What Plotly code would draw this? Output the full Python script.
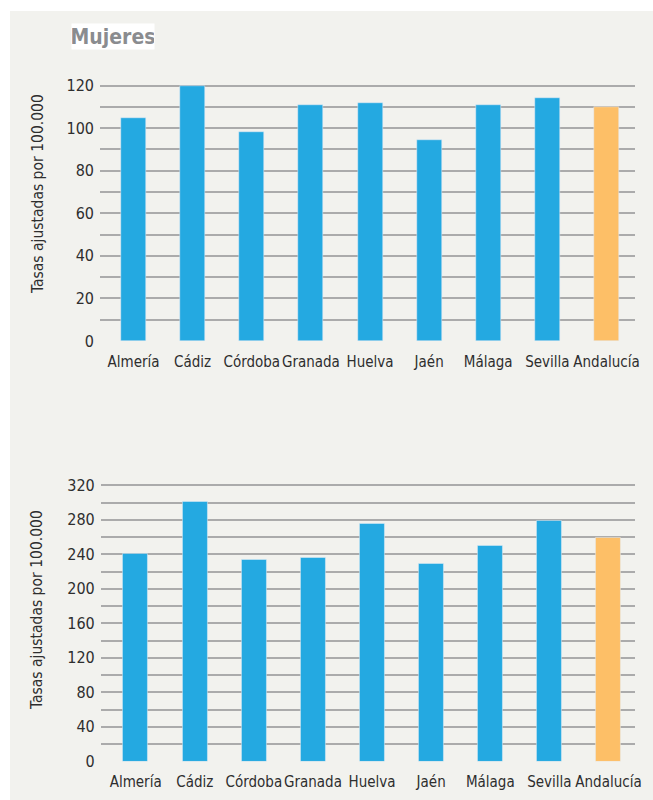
import plotly.graph_objects as go

categories = ["Almería", "Cádiz", "Córdoba", "Granada", "Huelva", "Jaén", "Málaga", "Sevilla", "Andalucía"]
mujeres = [105, 120, 98.4, 111, 112, 94.6, 111, 114.4, 110]
segunda = [241, 301, 233.4, 235.7, 275.5, 229.5, 250.5, 279.5, 259.5]
bar_colors = ["#24a9e1"] * 8 + ["#fdbf67"]

y_title = "Tasas ajustadas por 100.000"
panel_title = "Mujeres"

W, H = 653, 800
FONT = "DejaVu Sans Condensed"
TXT = "#2e2e2e"
GRID = "#ababab"
BG = "#f2f2ee"

def px(x):
    return x / W

def py(y):
    return 1 - y / H

def f(size, color=TXT, **kw):
    return dict(family=FONT, size=size, color=color, **kw)

fig = go.Figure()
fig.add_trace(go.Bar(x=categories, y=mujeres, marker_color=bar_colors, width=0.423,
                     xaxis="x", yaxis="y", showlegend=False))
fig.add_trace(go.Bar(x=categories, y=segunda, marker_color=bar_colors, width=0.423,
                     xaxis="x2", yaxis="y2", showlegend=False))

common_x = dict(showgrid=False, zeroline=False, showline=False, ticks="", tickangle=0,
                automargin=False, tickfont=f(15), ticklabelstandoff=10, fixedrange=True)
common_y = dict(showgrid=True, gridcolor=GRID, gridwidth=1.5, zeroline=False, showline=False,
                automargin=False, ticks="", tickfont=f(16),
                ticklabelstandoff=5, fixedrange=True)

fig.update_layout(
    width=W, height=H,
    autosize=False,
    margin=dict(l=0, r=0, t=0, b=0, pad=0),
    paper_bgcolor="white",
    plot_bgcolor="rgba(0,0,0,0)",
    bargap=0,
    xaxis=dict(common_x, domain=[px(100), px(635)], range=[-0.567, 8.482], anchor="y"),
    yaxis=dict(common_y, domain=[py(341), py(75)], range=[0, 125], dtick=20,
               minor=dict(dtick=10, showgrid=True, gridcolor=GRID, gridwidth=1.5), anchor="x"),
    xaxis2=dict(common_x, domain=[px(100.7), px(635)], range=[-0.592, 8.449], anchor="y2"),
    yaxis2=dict(common_y, domain=[py(761.3), py(476.7)], range=[0, 330], dtick=40,
                minor=dict(dtick=20, showgrid=True, gridcolor=GRID, gridwidth=1.5), anchor="x2"),
    shapes=[dict(type="rect", xref="paper", yref="paper", x0=px(10), x1=1, y0=0, y1=py(11),
                 fillcolor=BG, line=dict(width=0), layer="below")],
    annotations=[
        dict(text=panel_title, xref="paper", yref="paper", x=px(113), y=py(36.5),
             xanchor="center", yanchor="middle", showarrow=False, bgcolor="white",
             borderpad=0, width=82, height=25,
             font=f(21, "#8a8c8f", weight="bold")),
        dict(text=y_title, xref="paper", yref="paper", x=px(38), y=py(194),
             xanchor="center", yanchor="middle", textangle=-90, showarrow=False,
             font=f(15.5)),
        dict(text=y_title, xref="paper", yref="paper", x=px(37), y=py(610),
             xanchor="center", yanchor="middle", textangle=-90, showarrow=False,
             font=f(15.5)),
    ],
)

fig.write_html("out.html", config={"displayModeBar": False},
               post_script="document.body.style.margin='0';document.body.style.overflow='hidden';")
